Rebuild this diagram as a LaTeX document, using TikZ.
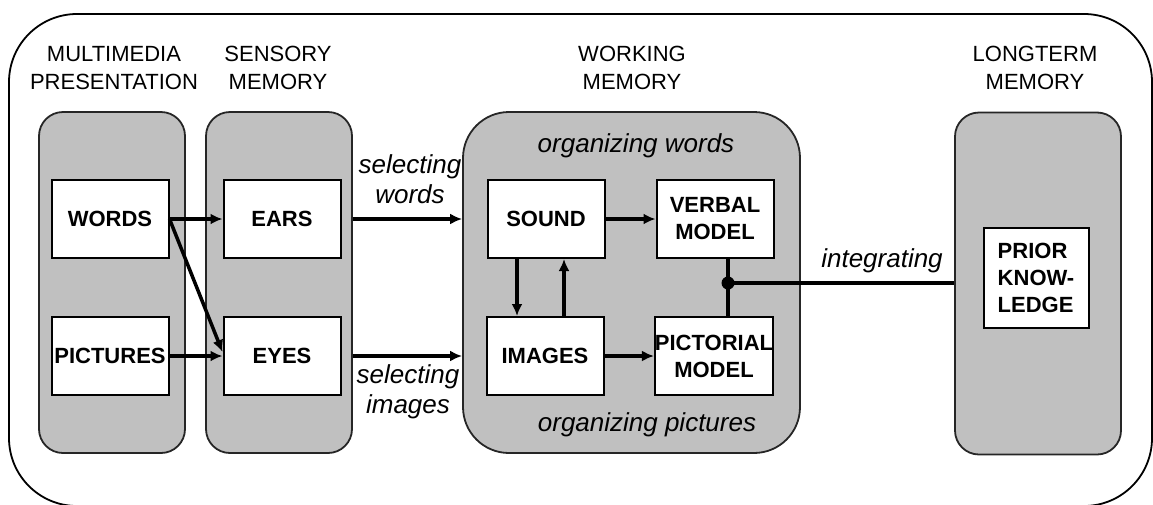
\documentclass[tikz,border=0pt]{standalone}
\usepackage{fontspec}
\setmainfont{Liberation Sans}
\usetikzlibrary{arrows.meta}
\definecolor{lanegray}{RGB}{192,192,192}

\begin{document}
\begin{tikzpicture}[x=1pt, y=-1pt,
    lane/.style={draw=black!85, line width=1.8pt, fill=lanegray, rounded corners=#1},
    lane/.default=24pt,
    box/.style={draw, line width=2pt, fill=white, minimum width=117pt, minimum height=78pt,
        inner sep=0pt, align=center, font=\fontsize{22}{27}\selectfont\bfseries},
    head/.style={align=center, font=\fontsize{22}{28}\selectfont},
    note/.style={align=center, font=\fontsize{26}{30}\selectfont\itshape},
    flow/.style={line width=3.5pt, -{Latex[length=12pt,width=11pt]}}]
    \clip (0,0) rectangle (1153,504);
    % frame round the whole model
    \draw[line width=1.8pt, rounded corners=68pt] (9,14) rectangle (1152,506);

    % the four stores
    \node[lane, minimum width=146pt, minimum height=341pt] (mmlane) at (112,282.5) {};
    \node[lane, minimum width=146pt, minimum height=341pt] (senslane) at (279,282.5) {};
    \node[lane=46pt, minimum width=337pt, minimum height=341pt] (wmlane) at (631.5,282.5) {};
    \node[lane, minimum width=166pt, minimum height=342pt] (ltlane) at (1038,283.5) {};

    \node[head] (mmhead) at (114,68) {MULTIMEDIA\\PRESENTATION};
    \node[head] (senshead) at (278,68) {SENSORY\\MEMORY};
    \node[head] (wmhead) at (632,68) {WORKING\\MEMORY};
    \node[head] (lthead) at (1035,68) {LONGTERM\\MEMORY};

    % contents of each store
    \node[box] (words) at (110,219) {WORDS};
    \node[box] (pictures) at (110,356) {PICTURES};
    \node[box] (ears) at (282,219) {EARS};
    \node[box] (eyes) at (282,356) {EYES};
    \node[box] (sound) at (546,219) {SOUND};
    \node[box] (images) at (545,356) {IMAGES};
    \node[box] (verbal) at (715,219) {VERBAL\\MODEL};
    \node[box] (pictorial) at (714,356) {PICTORIAL\\MODEL};
    \node[box, minimum width=105pt, minimum height=100pt, align=left] (prior) at (1036,278) {PRIOR\\KNOW-\\LEDGE};

    % processes
    \node[note] (selwords) at (410,179) {selecting\\words};
    \node[note] (selimages) at (408,392) {selecting\\images};
    \node[note] (orgwords) at (636,146) {organizing words};
    \node[note] (orgpics) at (647,425) {organizing pictures};
    \node[note] (integ) at (882,261) {integrating};

    \draw[flow] (words) -- (ears);
    \draw[flow] (pictures) -- (eyes);
    \draw[flow] (words.east) -- ([yshift=4pt]eyes.west);
    \draw[flow] (ears -| senslane.east) -- (ears -| wmlane.west);
    \draw[flow] (eyes -| senslane.east) -- (eyes -| wmlane.west);
    \draw[flow] (sound) -- (verbal);
    \draw[flow] (images) -- (pictorial);
    \draw[flow] ([xshift=-29pt]sound.south) -- ([xshift=-29pt]sound.south |- images.north);
    \draw[flow] ([xshift=19pt]images.north) -- ([xshift=19pt]images.north |- sound.south);

    % both models joined and linked to prior knowledge
    \coordinate (join) at (728,283);
    \draw[line width=3.5pt] (verbal.south -| join) -- (pictorial.north -| join);
    \draw[line width=3.5pt] (join) -- (join -| ltlane.west);
    \fill (join) circle (6.5pt);
\end{tikzpicture}
\end{document}
